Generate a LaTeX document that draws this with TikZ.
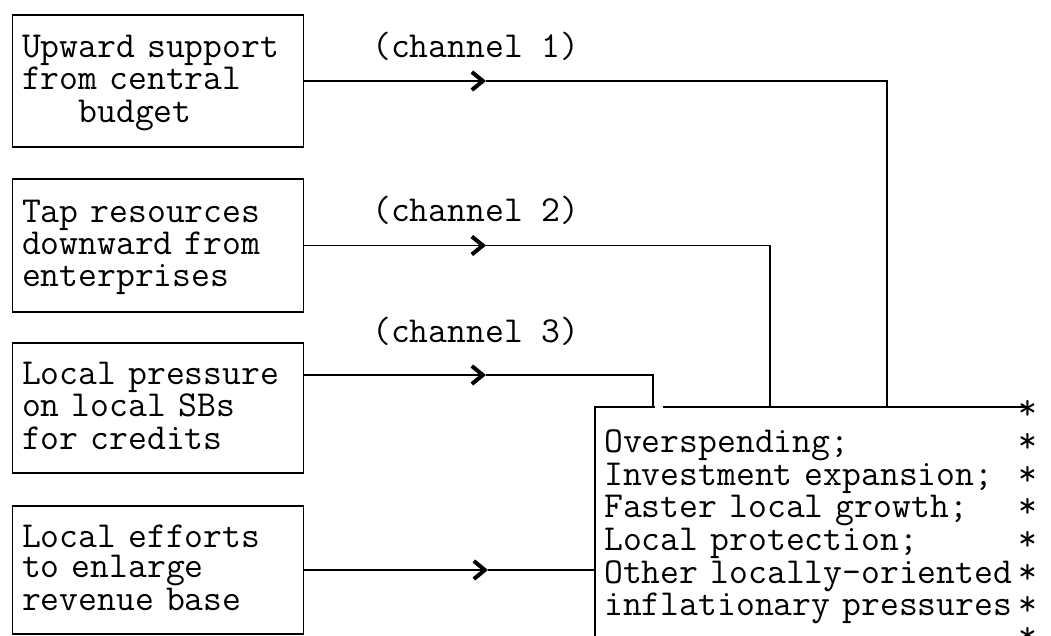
\documentclass[tikz,border=0pt]{standalone}
\usetikzlibrary{arrows.meta}
\newlength\chw
\newcommand\tw{\ttfamily\fontsize{36.6}{30.5}\selectfont\settowidth{\chw}{M}}
\newcommand\srow[1]{\strut\makebox[22\chw][l]{#1}*}
\newcommand\fstrut{\rule{0pt}{27pt}}
\begin{document}
\begin{tikzpicture}[x=1pt,y=-1pt,
  srcbox/.style={draw, line width=1.6pt, minimum width=291pt, inner sep=0pt,
                 text width=272pt, align=left, font=\tw},
  lbl/.style={font=\tw, inner sep=0pt, anchor=base west},
  bigtxt/.style={font=\tw, inner sep=0pt, text width=480pt, align=left, anchor=north west},
  wire/.style={line width=1.6pt},
  tipped/.style={line width=1.6pt, -{Straight Barb[length=11pt,width=18pt,line width=4pt]}}]
\useasboundingbox (0,0) rectangle (1051,635);

% source boxes
\node[srcbox, minimum height=132pt] (b1) at (158,81)
  {\fstrut Upward support\\\strut from central\\\strut\hspace*{3\chw}budget};
\node[srcbox, minimum height=133pt] (b2) at (158,245.5)
  {\fstrut Tap resources\\\strut downward from\\\strut enterprises};
\node[srcbox, minimum height=130pt] (b3) at (158,408)
  {\fstrut Local pressure\\\strut on local SBs\\\strut for credits};
\node[srcbox, minimum height=128pt] (b4) at (158,570)
  {\fstrut Local efforts\\\strut to enlarge\\\strut revenue base};

% channel labels
\node[lbl] (l1) at (372,57) {(channel 1)};
\node[lbl] (l2) at (372,221) {(channel 2)};
\node[lbl] (l3) at (372,342) {(channel 3)};

% outcome text
\node[bigtxt] (out) at (604,398)
  {\srow{}\\\srow{Overspending;}\\\srow{Investment expansion;}\\\srow{Faster local growth;}\\\srow{Local protection;}\\\srow{Other locally-oriented}\\\srow{inflationary pressures}\\\srow{}};

% outcome frame
\coordinate (tl) at (595,407);
\coordinate (bl) at (595,640);
\coordinate (g1) at (655,407);
\coordinate (g2) at (663,407);
\coordinate (te) at (1029,407);
\draw[wire] (bl) -- (tl) -- (g1);
\draw[wire] (g2) -- (te);

% arrow points and corners
\coordinate (m1) at (486,81);
\coordinate (k1) at (887,81);
\coordinate (m2) at (486,245.5);
\coordinate (k2) at (770,245.5);
\coordinate (s3) at ([yshift=33pt]b3.east);
\coordinate (m3) at (486,375);
\coordinate (k3) at (653,375);
\coordinate (m4) at (488,570);
\coordinate (e4) at (595,570);

\draw[tipped] (b1.east) -- (m1);
\draw[wire] (m1) -- (k1) -- (k1 |- tl);
\draw[tipped] (b2.east) -- (m2);
\draw[wire] (m2) -- (k2) -- (k2 |- tl);
\draw[tipped] (s3) -- (m3);
\draw[wire] (m3) -- (k3) -- (k3 |- tl);
\draw[tipped] (b4.east) -- (m4);
\draw[wire] (m4) -- (e4);
\end{tikzpicture}
\end{document}
